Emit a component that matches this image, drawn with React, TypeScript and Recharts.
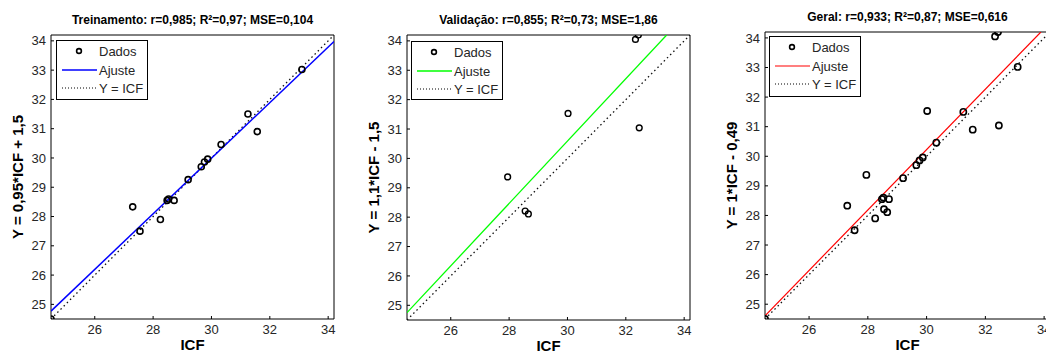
import React from 'react';
import { ScatterChart, Scatter, XAxis, YAxis } from 'recharts';

// ---------- data ----------
const xTicks = [26, 28, 30, 32, 34];
const yTicks = [25, 26, 27, 28, 29, 30, 31, 32, 33, 34];
const axisMin = 24.5;
const axisMax = 34.2;

const trainX = [24.5, 27.3, 27.55, 28.25, 28.48, 28.53, 28.72, 29.2, 29.65, 29.76, 29.87, 30.33, 31.25, 31.57, 33.1];
const trainY = [24.5, 28.33, 27.5, 27.9, 28.55, 28.6, 28.55, 29.26, 29.7, 29.86, 29.96, 30.46, 31.5, 30.9, 33.02];

const valX = [27.95, 28.55, 28.66, 30.02, 32.33, 32.43, 32.46];
const valY = [29.37, 28.21, 28.11, 31.53, 34.05, 34.2, 31.04];

const fitTrainX = [24.5, 34.2];
const fitTrainY = [24.77, 33.98];
const fitValX = [24.5, 33.4];
const fitValY = [24.75, 34.2];
const fitAllX = [24.5, 33.89];
const fitAllY = [24.61, 34.2];
const identX = [24.5, 34.2];
const identY = [24.5, 34.2];

const titles = [
  'Treinamento: r=0,985; R²=0,97; MSE=0,104',
  'Validação: r=0,855; R²=0,73; MSE=1,86',
  'Geral: r=0,933; R²=0,87; MSE=0,616',
];
const yLabels = ['Y = 0,95*ICF + 1,5', 'Y = 1,1*ICF - 1,5', 'Y = 1*ICF - 0,49'];
const xLabel = 'ICF';
const legendLabels = ['Dados', 'Ajuste', 'Y = ICF'];

const toPts = (xs: number[], ys: number[]) => xs.map((x, i) => ({ x, y: ys[i] }));

// ---------- layout ----------
const FONT = 'Arial, "Liberation Sans", Helvetica, sans-serif';
const TICK_COLOR = '#262626';

type PanelCfg = {
  plotLeft: number; plotRight: number; plotTop: number; plotBottom: number;
  titleBaseline: number;
  title: string; yLabel: string;
  points: { x: number; y: number }[];
  fit: { x: number; y: number }[];
  fitColor: string; fitWidth: number;
  markerR: number; markerStroke: number;
  legend: { x: number; y: number; w: number; h: number };
};

const Marker = (r: number, sw: number) => (props: any) => {
  const { cx, cy } = props;
  if (cx == null || cy == null) return <g />;
  return <circle cx={cx} cy={cy} r={r} fill="none" stroke="#000" strokeWidth={sw} />;
};
const NoShape = () => <g />;

function Legend({ cfg }: { cfg: PanelCfg }) {
  const { x, y, w, h } = cfg.legend;
  const rows = [11, 30, 48];
  return (
    <div style={{ position: 'absolute', left: x, top: y, width: w, height: h, boxSizing: 'border-box', border: '1px solid #000', background: '#fff' }}>
      <svg width={w} height={h} style={{ position: 'absolute', left: -1, top: -1 }}>
        <circle cx={23} cy={rows[0]} r={2.4} fill="none" stroke="#000" strokeWidth={1.6} />
        <line x1={6} x2={41} y1={rows[1]} y2={rows[1]} stroke={cfg.fitColor} strokeWidth={cfg.fitWidth} />
        <line x1={6} x2={41} y1={rows[2]} y2={rows[2]} stroke="#000" strokeWidth={1} strokeDasharray="1 2" />
      </svg>
      {legendLabels.map((t, i) => (
        <div key={t} style={{ position: 'absolute', left: 42, top: rows[i] - 9, height: 18, lineHeight: '18px', fontSize: 13, color: TICK_COLOR, whiteSpace: 'nowrap' }}>{t}</div>
      ))}
    </div>
  );
}

function Panel({ cfg }: { cfg: PanelCfg }) {
  const L = cfg.plotLeft - 71;
  const W = cfg.plotRight + 10 - L;
  const tickStyle = { fontSize: 13, fill: TICK_COLOR };
  return (
    <>
      <div style={{ position: 'absolute', left: L, top: 0, width: W, height: 354 }}>
        <ScatterChart width={W} height={354} margin={{ top: cfg.plotTop - 1, right: 9, bottom: 354 - cfg.plotBottom - 30, left: 5 }}>
          <XAxis type="number" dataKey="x" domain={[axisMin, axisMax]} allowDataOverflow ticks={xTicks} height={30}
            tick={tickStyle} tickSize={-3} tickMargin={9} axisLine={{ stroke: '#000' }} tickLine={{ stroke: '#000' }}
            label={{ value: xLabel, position: 'insideBottom', offset: -1, fontSize: 15, fontWeight: 'bold', fill: '#000' }} />
          <XAxis xAxisId="top" orientation="top" type="number" dataKey="x" domain={[axisMin, axisMax]} allowDataOverflow ticks={xTicks} height={1}
            tick={false} tickSize={-3} axisLine={{ stroke: '#000' }} tickLine={{ stroke: '#000' }} />
          <YAxis type="number" dataKey="y" domain={[axisMin, axisMax]} allowDataOverflow ticks={yTicks} width={66}
            tick={tickStyle} tickSize={-3} tickMargin={8} axisLine={{ stroke: '#000' }} tickLine={{ stroke: '#000' }}
            label={{ value: cfg.yLabel, angle: -90, position: 'center', fontSize: 15, fontWeight: 'bold', fill: '#000' }} />
          <YAxis yAxisId="right" orientation="right" type="number" dataKey="y" domain={[axisMin, axisMax]} allowDataOverflow ticks={yTicks} width={1}
            tick={false} tickSize={-3} axisLine={{ stroke: '#000' }} tickLine={{ stroke: '#000' }} />
          <Scatter data={toPts(identX, identY)} line={{ stroke: '#111', strokeWidth: 1.3, strokeDasharray: '1.5 3' }} shape={NoShape} isAnimationActive={false} />
          <Scatter data={cfg.fit} line={{ stroke: cfg.fitColor, strokeWidth: cfg.fitWidth }} shape={NoShape} isAnimationActive={false} />
          <Scatter data={cfg.points} shape={Marker(cfg.markerR, cfg.markerStroke)} isAnimationActive={false} />
        </ScatterChart>
      </div>
      <div style={{ position: 'absolute', left: cfg.plotLeft - 60, width: cfg.plotRight - cfg.plotLeft + 120, top: cfg.titleBaseline - 10, lineHeight: '12px', fontSize: 12, fontWeight: 'bold', textAlign: 'center', color: '#000', whiteSpace: 'nowrap' }}>
        {cfg.title}
      </div>
      <Legend cfg={cfg} />
    </>
  );
}

const panels: PanelCfg[] = [
  {
    plotLeft: 51, plotRight: 334, plotTop: 35, plotBottom: 319, titleBaseline: 24,
    title: titles[0], yLabel: yLabels[0],
    points: toPts(trainX, trainY), fit: toPts(fitTrainX, fitTrainY),
    fitColor: '#0000ff', fitWidth: 1.5, markerR: 3, markerStroke: 1.6,
    legend: { x: 56, y: 40, w: 92, h: 60 },
  },
  {
    plotLeft: 407, plotRight: 690, plotTop: 35, plotBottom: 320, titleBaseline: 24,
    title: titles[1], yLabel: yLabels[1],
    points: toPts(valX, valY), fit: toPts(fitValX, fitValY),
    fitColor: '#00ff00', fitWidth: 1.3, markerR: 2.9, markerStroke: 1.4,
    legend: { x: 411, y: 41, w: 92, h: 59 },
  },
  {
    plotLeft: 765, plotRight: 1050, plotTop: 32, plotBottom: 319, titleBaseline: 21,
    title: titles[2], yLabel: yLabels[2],
    points: toPts([...trainX, ...valX], [...trainY, ...valY]), fit: toPts(fitAllX, fitAllY),
    fitColor: '#ff0000', fitWidth: 1.2, markerR: 3.1, markerStroke: 1.6,
    legend: { x: 769, y: 36, w: 92, h: 61 },
  },
];

export default function App() {
  return (
    <div style={{ position: 'absolute', left: 0, top: 0, width: 1046, height: 354, overflow: 'hidden', background: '#fff', fontFamily: FONT }}>
      {panels.map((p, i) => <Panel key={i} cfg={p} />)}
    </div>
  );
}
